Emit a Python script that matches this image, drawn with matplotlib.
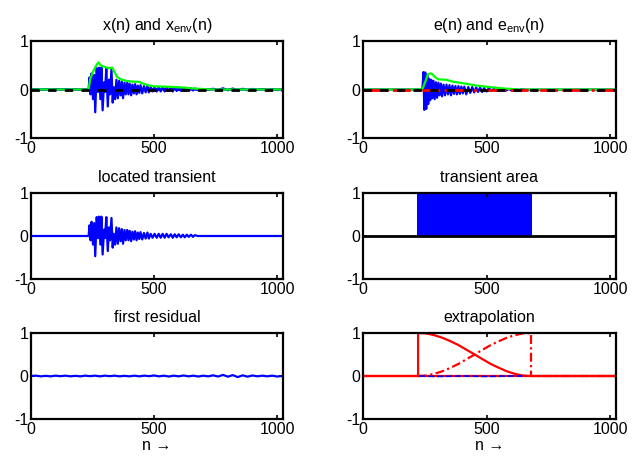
import matplotlib
matplotlib.use("Agg")
import matplotlib.pyplot as plt

plt.rcParams['font.family'] = ['Liberation Sans', 'DejaVu Sans']
plt.rcParams['mathtext.fontset'] = 'custom'
plt.rcParams['mathtext.rm'] = 'Liberation Sans'
plt.rcParams['mathtext.it'] = 'Liberation Sans'
plt.rcParams['axes.unicode_minus'] = False

N_MAX = 1024
titles = [r"x(n) and x$_{\rm env}$(n)", r"e(n) and e$_{\rm env}$(n)",
          "located transient", "transient area",
          "first residual", "extrapolation"]
xlabel = "n \u2192"

# located transient, read as successive extrema
trans_n = [0, 234, 238, 242, 246, 252, 257, 261, 267, 272, 276, 282, 286, 291, 297,
           301, 306, 312, 317, 321, 327, 332, 336, 342, 347, 353, 358, 364, 369, 374,
           380, 385, 391, 396, 401, 407, 412, 418, 423, 429, 434, 440, 445, 452, 459,
           466, 473, 479, 486, 494, 502, 511, 519, 527, 535, 543, 551, 559, 568, 576,
           584, 592, 600, 609, 617, 625, 633, 641, 650, 658, 666, 677, 1024]
trans_v = [0, 0, 0.25, -0.10, 0.33, -0.20, 0.30, -0.47, 0.44, -0.05, 0.45, -0.20, 0.45, -0.43, 0.15,
           -0.05, 0.44, -0.35, 0.20, -0.10, 0.42, -0.27, 0.05, -0.20, 0.20, -0.18, 0.18, -0.12, 0.16, -0.18,
           0.14, -0.10, 0.14, -0.10, 0.12, -0.12, 0.10, -0.08, 0.11, -0.10, 0.08, -0.07, 0.09, -0.08, 0.07,
           -0.06, 0.08, -0.06, 0.05, -0.04, 0.05, -0.04, 0.05, -0.04, 0.05, -0.04, 0.05, -0.03, 0.04, -0.04,
           0.04, -0.03, 0.04, -0.03, 0.03, -0.03, 0.03, -0.02, 0.03, -0.02, 0.02, 0, 0]

# first residual, sampled every 20
resid_n = list(range(0, 1040, 20))
resid_v = [0.0, 0.008, -0.008, 0.004, -0.008, 0.008, -0.004, 0.008, -0.008, 0.004,
           -0.008, 0.008, -0.004, 0.008, -0.008, 0.008, -0.004, 0.008, -0.008, 0.004,
           -0.008, 0.008, -0.008, 0.008, -0.004, 0.012, -0.008, 0.008, -0.012, 0.008,
           -0.008, 0.012, -0.008, 0.008, -0.012, 0.008, -0.008, 0.015, -0.012, 0.025,
           -0.015, 0.02, -0.025, 0.015, -0.015, 0.012, -0.008, 0.008, -0.008, 0.008,
           -0.012, 0.0]

# envelope of x(n)
xenv_n = [0, 234, 241, 255, 268, 275, 282, 296, 316, 330, 337, 350, 364, 391, 418,
          439, 452, 473, 500, 541, 581, 622, 663, 731, 1024]
xenv_v = [0, 0, 0.23, 0.40, 0.52, 0.56, 0.50, 0.47, 0.44, 0.45, 0.38, 0.26, 0.21, 0.175, 0.16,
          0.16, 0.13, 0.09, 0.065, 0.06, 0.05, 0.04, 0.02, 0.0, 0]

# e(n), read as successive extrema
e_n = [0, 240, 245, 248, 252, 256, 260, 264, 268, 272, 276, 280, 285, 290, 295, 300, 305,
       310, 315, 320, 326, 332, 338, 344, 350, 356, 362, 368, 374, 380, 386, 392, 398,
       404, 410, 418, 426, 434, 442, 450, 458, 466, 474, 482, 490, 500, 510, 520, 530,
       540, 550, 560, 570, 580, 590, 600, 615, 630, 645, 660, 1024]
e_v = [0, 0, 0.36, -0.42, 0.35, -0.40, 0.30, -0.30, 0.22, -0.22, 0.20, -0.18, 0.18, -0.20, 0.15, -0.17, 0.14,
       -0.12, 0.12, -0.14, 0.10, -0.12, 0.10, -0.10, 0.09, -0.12, 0.08, -0.09, 0.07, -0.10, 0.07, -0.09, 0.06,
       -0.08, 0.06, -0.10, 0.05, -0.07, 0.05, -0.06, 0.04, -0.05, 0.04, -0.05, 0.03, -0.04, 0.03, -0.03, 0.02,
       -0.03, 0.02, -0.02, 0.015, -0.02, 0.01, -0.015, 0.01, -0.01, 0.005, -0.005, 0]

# envelope of e(n)
eenv_n = [0, 240, 255, 262, 270, 277, 291, 304, 338, 365, 405, 459, 513, 568, 635, 1024]
eenv_v = [0, 0, 0.2, 0.31, 0.33, 0.33, 0.26, 0.21, 0.20, 0.16, 0.13, 0.08, 0.05, 0.02, 0, 0]

# transient area
area_start = 220
area_end = 685

# extrapolation windows
fade_n = [223, 256, 288, 321, 354, 386, 419, 452, 484, 517, 550, 582, 615, 647, 680]
fade_out = [1.0, 0.99, 0.95, 0.89, 0.81, 0.72, 0.61, 0.50, 0.39, 0.28, 0.19, 0.11, 0.05, 0.01, 0.0]
fade_in = [0.0, 0.01, 0.05, 0.11, 0.19, 0.28, 0.39, 0.50, 0.61, 0.72, 0.81, 0.89, 0.95, 0.99, 1.0]
extra_n = [228, 300, 400, 500, 600, 660]
extra_v = [0.0, -0.01, 0.0, -0.01, 0.0, 0.0]

fig = plt.figure(figsize=(6.42, 4.57), dpi=100)
W, H = 642.0, 457.0
cols = [(31, 283), (363, 616)]
rows = [(41, 138), (193, 279), (333, 419)]
axes = []
for r, (top, bot) in enumerate(rows):
    for c, (lft, rgt) in enumerate(cols):
        ax = fig.add_axes([lft / W, (H - bot) / H, (rgt - lft) / W, (bot - top) / H])
        axes.append(ax)

lw = 1.6
# x(n) and envelope
ax = axes[0]
ax.plot(trans_n, trans_v, color='b', lw=lw)
ax.plot(resid_n, resid_v, color='b', lw=lw)
ax.plot(xenv_n, xenv_v, color=(0, 1, 0), lw=lw)
ax.plot([0, N_MAX], [0, 0], color='k', ls=(0, (3, 3)), lw=2)

# e(n) and envelope
ax = axes[1]
ax.plot(e_n, e_v, color='b', lw=lw)
ax.plot(eenv_n, eenv_v, color=(0, 1, 0), lw=lw)
ax.plot([0, N_MAX], [0, 0], color='r', ls='-.', lw=2)
ax.plot([0, N_MAX], [0, 0], color='k', ls=(0, (3, 3)), lw=2)

# located transient
ax = axes[2]
ax.plot(trans_n, trans_v, color='b', lw=lw)

# transient area
ax = axes[3]
ax.fill_between([area_start, area_end], 0, 1, color='b', lw=0)
ax.plot([0, N_MAX], [0, 0], color='k', lw=2)

# first residual
ax = axes[4]
ax.plot(resid_n, resid_v, color='b', lw=lw)

# extrapolation
ax = axes[5]
ax.plot([0, N_MAX], [0, 0], color='r', lw=lw)
ax.plot([0, fade_n[0]] + fade_n + [N_MAX], [0, 0] + fade_out + [0], color='r', lw=lw)
ax.plot(fade_n + [fade_n[-1], N_MAX], fade_in + [0, 0], color='r', ls=(0, (4, 1.5, 1, 1.5)), lw=lw)
ax.plot(extra_n, extra_v, color='b', ls='--', lw=1.2)

for ax, t in zip(axes, titles):
    ax.set_xlim(0, N_MAX)
    ax.set_ylim(-1, 1)
    ax.set_xticks([0, 500, 1000])
    ax.set_yticks([-1, 0, 1])
    ax.tick_params(direction='in', top=True, right=True, length=3, width=1.2,
                   labelsize=11.5, pad=2)
    for s in ax.spines.values():
        s.set_linewidth(1.6)
    ax.set_title(t, fontsize=11.5, pad=8)

for ax in axes[4:]:
    ax.set_xlabel(xlabel, fontsize=11.5, labelpad=1)

fig.savefig("out.png", dpi=100)
